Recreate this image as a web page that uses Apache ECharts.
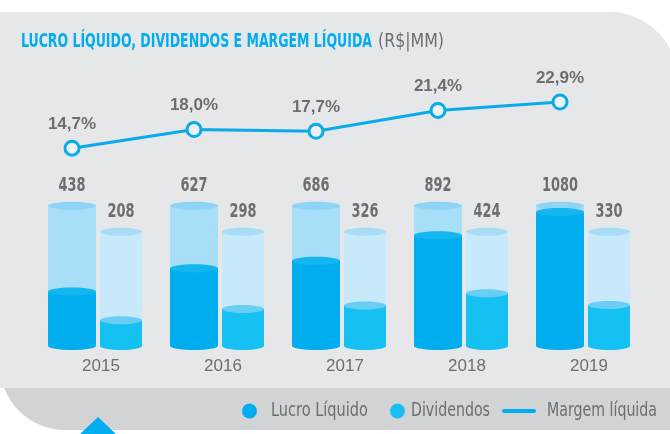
<!DOCTYPE html>
<html>
<head>
<meta charset="utf-8">
<title>Lucro líquido, dividendos e margem líquida</title>
<script src="https://cdn.jsdelivr.net/npm/echarts@6/dist/echarts.min.js"></script>
<style>
  html, body { margin: 0; padding: 0; background: #fff; }
  #chart1 { width: 670px; height: 434px; }
</style>
</head>
<body>
<div id="chart1"></div>
<script type="text/javascript">
    // dados
    var anos = ['2015', '2016', '2017', '2018', '2019'];
    var lucro = [438, 627, 686, 892, 1080];
    var dividendos = [208, 298, 326, 424, 330];
    var margem = [14.7, 18.0, 17.7, 21.4, 22.9];
    // altura dos cilindros "vazios" ao fundo
    var lucroFundo = [1130, 1130, 1130, 1130, 1130];
    var divFundo = [920, 920, 920, 920, 920];

    var FONT = "'DejaVu Sans Condensed', 'Liberation Sans', sans-serif";
    var FONT2 = "'Liberation Sans', Arial, sans-serif";
    var CINZA = '#6d6e71';
    var AZUL = '#00aeef';

    function mede(texto, font) {
        var c = document.createElement('canvas').getContext('2d');
        c.font = font;
        return c.measureText(texto).width;
    }

    var fontValor = 'bold 19px ' + FONT;
    var escValor = 9 / mede('0', fontValor);

    // cilindro: fundo claro + parte preenchida + valor em cima
    function cilindro(offset, largura, cor) {
        return function (params, api) {
            var i = api.value(0);
            var base = api.coord([i, 0]);
            var topo = api.coord([i, api.value(1)]);
            var fundo = api.coord([i, api.value(2)]);
            var cx = base[0] + offset;
            var x = cx - largura / 2;
            var rx = largura / 2, ry = 4;
            return {
                type: 'group',
                children: [
                    { type: 'rect', shape: { x: x, y: fundo[1], width: largura, height: base[1] - fundo[1] }, style: { fill: cor.fundo } },
                    { type: 'ellipse', shape: { cx: cx, cy: fundo[1], rx: rx, ry: ry }, style: { fill: cor.fundoTopo } },
                    { type: 'ellipse', shape: { cx: cx, cy: base[1], rx: rx, ry: ry }, style: { fill: cor.cheio } },
                    { type: 'rect', shape: { x: x, y: topo[1], width: largura, height: base[1] - topo[1] }, style: { fill: cor.cheio } },
                    { type: 'ellipse', shape: { cx: cx, cy: topo[1], rx: rx, ry: ry }, style: { fill: cor.topo } },
                    {
                        type: 'text', x: cx, y: fundo[1] - 20, scaleX: escValor,
                        style: { text: String(api.value(1)), fill: CINZA, font: fontValor, align: 'center', verticalAlign: 'middle' }
                    }
                ]
            };
        };
    }

    // textos com largura ajustada
    function texto(t, font, cor, x, y, largura) {
        return { type: 'text', x: x, y: y, scaleX: largura / mede(t, font), style: { text: t, font: font, fill: cor, verticalAlign: 'middle' } };
    }

    var fontLeg = '19px ' + FONT;

    var myChart = echarts.init(document.getElementById('chart1'));
    var option = {
        animation: false,
        backgroundColor: '#ffffff',
        graphic: [
            { type: 'rect', z: -10, shape: { x: 0, y: 12, width: 678, height: 418, r: [0, 70, 0, 65] }, style: { fill: '#d1d3d4' } },
            { type: 'rect', z: -9, shape: { x: 0, y: 12, width: 678, height: 376, r: [0, 70, 0, 0] }, style: { fill: '#e6e7e8' } },
            { type: 'polygon', z: -8, shape: { points: [[78, 436], [98, 417], [118, 436]] }, style: { fill: AZUL } },
            texto('LUCRO LÍQUIDO, DIVIDENDOS E MARGEM LÍQUIDA', 'bold 20px ' + FONT, AZUL, 21, 42, 351),
            texto('(R$|MM)', '20px ' + FONT, CINZA, 378, 42, 66),
            // legenda
            { type: 'circle', shape: { cx: 249.5, cy: 411, r: 7.5 }, style: { fill: AZUL } },
            texto('Lucro Líquido', fontLeg, CINZA, 271, 411, 97),
            { type: 'circle', shape: { cx: 397.5, cy: 411, r: 7.5 }, style: { fill: '#17c0f1' } },
            texto('Dividendos', fontLeg, CINZA, 411, 411, 79),
            { type: 'line', shape: { x1: 504, y1: 411, x2: 534, y2: 411 }, style: { stroke: AZUL, lineWidth: 4, lineCap: 'round' } },
            texto('Margem líquida', fontLeg, CINZA, 547, 411, 110)
        ],
        grid: [
            { left: 11, right: 49, top: 197, bottom: 88 },
            { left: 11, right: 49, top: 62, bottom: 203 }
        ],
        xAxis: [
            {
                type: 'category', gridIndex: 0, data: anos,
                axisLine: { show: false }, axisTick: { show: false },
                axisLabel: { color: CINZA, fontSize: 17, fontFamily: FONT2, margin: 12, padding: [0, 0, 0, 58] }
            },
            { type: 'category', gridIndex: 1, data: anos, show: false }
        ],
        yAxis: [
            { type: 'value', gridIndex: 0, min: 0, max: 1200, show: false, splitLine: { show: false } },
            { type: 'value', gridIndex: 1, min: 0, max: 30, show: false, splitLine: { show: false } }
        ],
        series: [
            {
                name: 'Lucro Líquido', type: 'custom', xAxisIndex: 0, yAxisIndex: 0,
                renderItem: cilindro(0, 48, { fundo: '#a9def8', fundoTopo: '#8ed4f6', cheio: '#00aeef', topo: '#14b6f0' }),
                data: lucro.map(function (v, i) { return [i, v, lucroFundo[i]]; })
            },
            {
                name: 'Dividendos', type: 'custom', xAxisIndex: 0, yAxisIndex: 0,
                renderItem: cilindro(49, 42, { fundo: '#c7e9f9', fundoTopo: '#a8ddf6', cheio: '#15c0f2', topo: '#6acef4' }),
                data: dividendos.map(function (v, i) { return [i, v, divFundo[i]]; })
            },
            {
                name: 'Margem líquida', type: 'line', xAxisIndex: 1, yAxisIndex: 1,
                data: margem,
                symbol: 'circle', symbolSize: 14,
                lineStyle: { color: '#0aabe9', width: 3 },
                itemStyle: { color: '#eef1f3', borderColor: '#0aabe9', borderWidth: 3 },
                label: {
                    show: true, position: 'top', distance: 7,
                    color: CINZA, fontSize: 17, fontWeight: 'bold', fontFamily: FONT2,
                    formatter: function (p) { return p.value.toFixed(1).replace('.', ',') + '%'; }
                },
                z: 5
            }
        ]
    };
    myChart.setOption(option);
</script>
</body>
</html>
